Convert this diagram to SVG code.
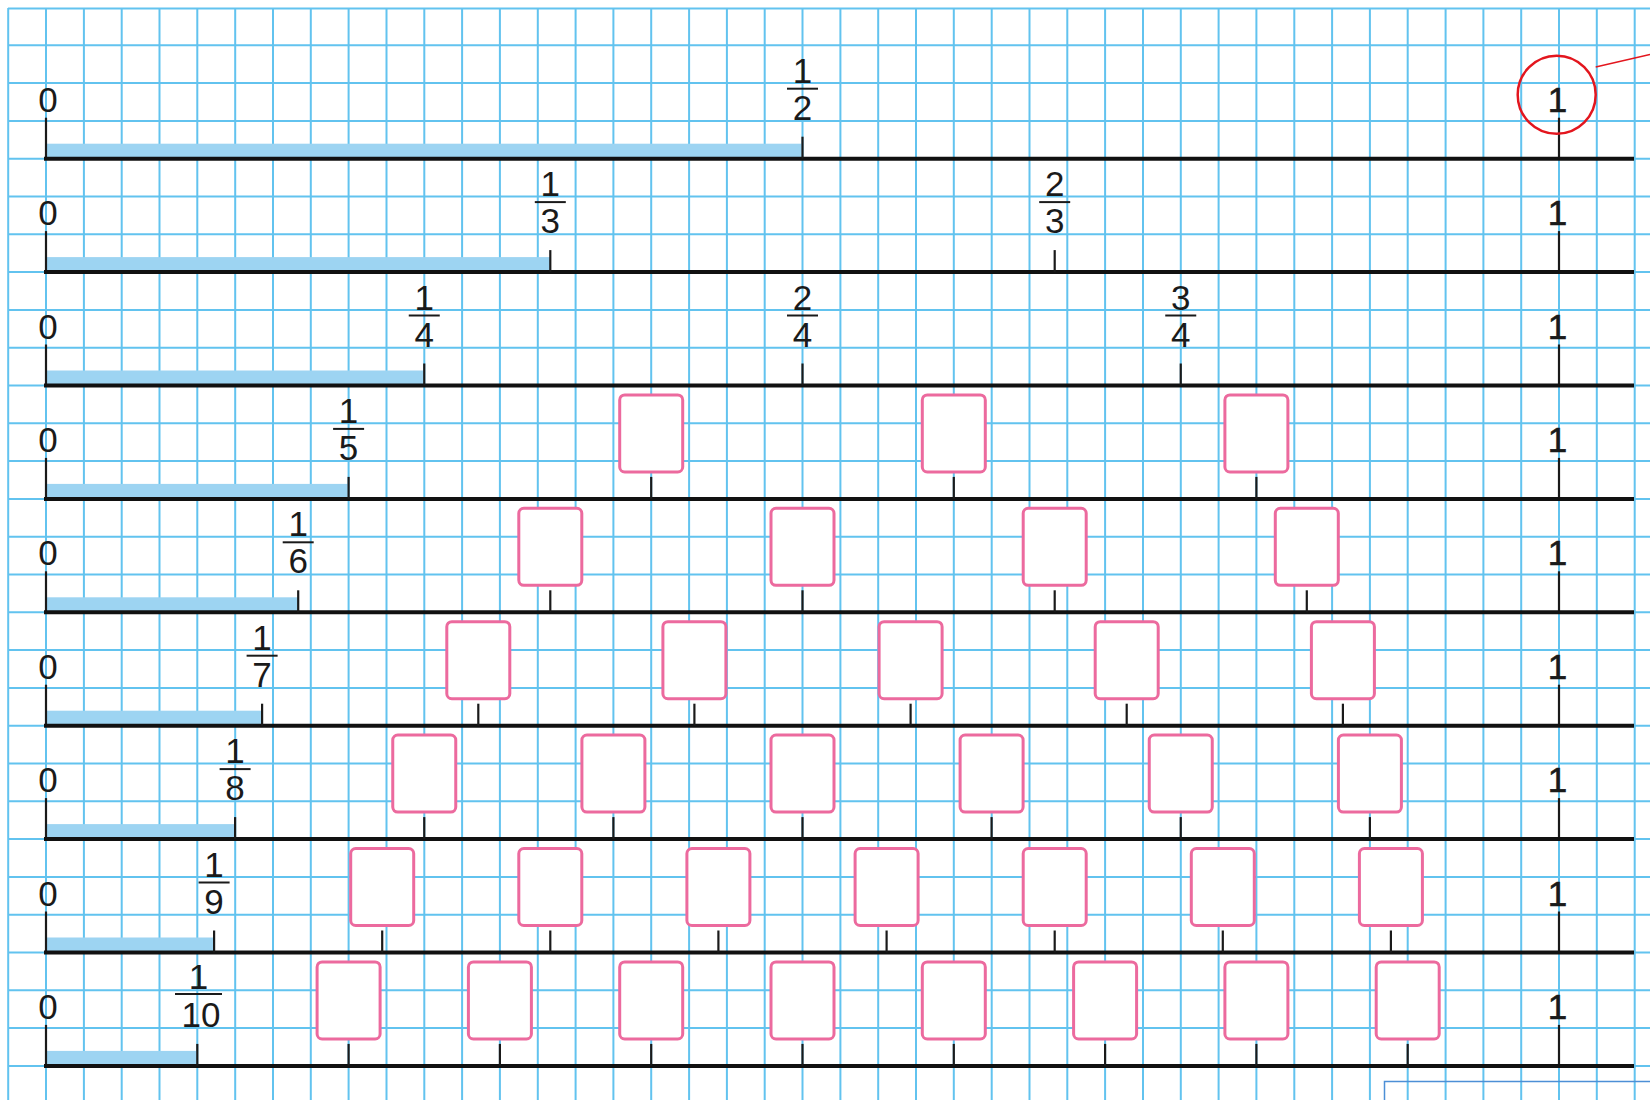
<svg xmlns="http://www.w3.org/2000/svg" xmlns:xlink="http://www.w3.org/1999/xlink" width="1650" height="1100" viewBox="0 0 1650 1100">
<style>
.grid{fill:none;stroke:#62c3ef;stroke-width:2}
.axis{stroke:#111;stroke-width:4;fill:none}
.tick{stroke:#1a1a1a;stroke-width:2.2;fill:none}
.bar{fill:#9dd4f2}
.box{fill:#fff;stroke:#ec6a9e;stroke-width:3}
.fb{stroke:#1a1a1a;stroke-width:2}
text{font-family:"Liberation Sans",Arial,sans-serif;font-size:35px;fill:#1a1a1a;text-anchor:middle}
.unit{stroke:#1a1a1a;stroke-width:0.6}
</style>
<defs>
<g id="blank"><rect class="box" x="-31.5" y="-104" width="63" height="77" rx="5"/><line class="tick" x1="0" y1="-22" x2="0" y2="0"/></g>
<g id="ends"><line class="tick" x1="46" y1="-41" x2="46" y2="0"/><line class="tick" x1="1559" y1="-41" x2="1559" y2="0"/><line class="axis" x1="44" y1="0" x2="1634" y2="0"/><text x="48" y="-47">0</text><text class="unit" x="1557.5" y="-47">1</text></g>
</defs>
<rect width="1650" height="1100" fill="#fff"/>
<path class="grid" d="M8.2 8V1100M46 8V1100M83.9 8V1100M121.7 8V1100M159.5 8V1100M197.3 8V1100M235.2 8V1100M273 8V1100M310.8 8V1100M348.6 8V1100M386.5 8V1100M424.3 8V1100M462.1 8V1100M499.9 8V1100M537.8 8V1100M575.6 8V1100M613.4 8V1100M651.2 8V1100M689.1 8V1100M726.9 8V1100M764.7 8V1100M802.5 8V1100M840.4 8V1100M878.2 8V1100M916 8V1100M953.8 8V1100M991.7 8V1100M1029.5 8V1100M1067.3 8V1100M1105.1 8V1100M1143 8V1100M1180.8 8V1100M1218.6 8V1100M1256.4 8V1100M1294.3 8V1100M1332.1 8V1100M1369.9 8V1100M1407.7 8V1100M1445.6 8V1100M1483.4 8V1100M1521.2 8V1100M1559 8V1100M1596.8 8V1100M1634.7 8V1100M8 8.5H1650M8 45.3H1650M8 83.1H1650M8 120.9H1650M8 158.7H1650M8 196.5H1650M8 234.3H1650M8 272.1H1650M8 309.9H1650M8 347.7H1650M8 385.5H1650M8 423.3H1650M8 461.1H1650M8 498.9H1650M8 536.7H1650M8 574.5H1650M8 612.3H1650M8 650.1H1650M8 687.9H1650M8 725.7H1650M8 763.5H1650M8 801.3H1650M8 839.1H1650M8 876.9H1650M8 914.7H1650M8 952.5H1650M8 990.3H1650M8 1028.1H1650M8 1065.9H1650"/>

<g id="row-halves" transform="translate(0,158.7)">
<rect class="bar" x="46" y="-15" width="756.5" height="14"/>
<use href="#ends"/>
<line class="tick" x1="802.5" y1="-22" x2="802.5" y2="0"/>
<text x="802.5" y="-76">1</text><line class="fb" x1="787" y1="-70" x2="818" y2="-70"/><text x="802.5" y="-39">2</text>
</g>

<g id="row-thirds" transform="translate(0,272.1)">
<rect class="bar" x="46" y="-15" width="504.3" height="14"/>
<use href="#ends"/>
<line class="tick" x1="550.3" y1="-22" x2="550.3" y2="0"/>
<text x="550.3" y="-76">1</text><line class="fb" x1="534.8" y1="-70" x2="565.8" y2="-70"/><text x="550.3" y="-39">3</text>
<line class="tick" x1="1054.7" y1="-22" x2="1054.7" y2="0"/>
<text x="1054.7" y="-76">2</text><line class="fb" x1="1039.2" y1="-70" x2="1070.2" y2="-70"/><text x="1054.7" y="-39">3</text>
</g>

<g id="row-quarters" transform="translate(0,385.5)">
<rect class="bar" x="46" y="-15" width="378.25" height="14"/>
<use href="#ends"/>
<line class="tick" x1="424.25" y1="-22" x2="424.25" y2="0"/>
<text x="424.25" y="-76">1</text><line class="fb" x1="408.75" y1="-70" x2="439.75" y2="-70"/><text x="424.25" y="-39">4</text>
<line class="tick" x1="802.5" y1="-22" x2="802.5" y2="0"/>
<text x="802.5" y="-76">2</text><line class="fb" x1="787" y1="-70" x2="818" y2="-70"/><text x="802.5" y="-39">4</text>
<line class="tick" x1="1180.75" y1="-22" x2="1180.75" y2="0"/>
<text x="1180.75" y="-76">3</text><line class="fb" x1="1165.25" y1="-70" x2="1196.25" y2="-70"/><text x="1180.75" y="-39">4</text>
</g>

<g id="row-fifths" transform="translate(0,498.9)">
<rect class="bar" x="46" y="-15" width="302.6" height="14"/>
<use href="#ends"/>
<line class="tick" x1="348.6" y1="-22" x2="348.6" y2="0"/>
<text x="348.6" y="-76">1</text><line class="fb" x1="333.1" y1="-70" x2="364.1" y2="-70"/><text x="348.6" y="-39">5</text>
<use id="box-5-2" href="#blank" x="651.2"/>
<use id="box-5-3" href="#blank" x="953.8"/>
<use id="box-5-4" href="#blank" x="1256.4"/>
</g>

<g id="row-sixths" transform="translate(0,612.3)">
<rect class="bar" x="46" y="-15" width="252.2" height="14"/>
<use href="#ends"/>
<line class="tick" x1="298.2" y1="-22" x2="298.2" y2="0"/>
<text x="298.2" y="-76">1</text><line class="fb" x1="282.7" y1="-70" x2="313.7" y2="-70"/><text x="298.2" y="-39">6</text>
<use id="box-6-2" href="#blank" x="550.3"/>
<use id="box-6-3" href="#blank" x="802.5"/>
<use id="box-6-4" href="#blank" x="1054.7"/>
<use id="box-6-5" href="#blank" x="1306.8"/>
</g>

<g id="row-sevenths" transform="translate(0,725.7)">
<rect class="bar" x="46" y="-15" width="216.1" height="14"/>
<use href="#ends"/>
<line class="tick" x1="262.1" y1="-22" x2="262.1" y2="0"/>
<text x="262.1" y="-76">1</text><line class="fb" x1="246.6" y1="-70" x2="277.6" y2="-70"/><text x="262.1" y="-39">7</text>
<use id="box-7-2" href="#blank" x="478.3"/>
<use id="box-7-3" href="#blank" x="694.4"/>
<use id="box-7-4" href="#blank" x="910.6"/>
<use id="box-7-5" href="#blank" x="1126.7"/>
<use id="box-7-6" href="#blank" x="1342.9"/>
</g>

<g id="row-eighths" transform="translate(0,839.1)">
<rect class="bar" x="46" y="-15" width="189.1" height="14"/>
<use href="#ends"/>
<line class="tick" x1="235.1" y1="-22" x2="235.1" y2="0"/>
<text x="235.1" y="-76">1</text><line class="fb" x1="219.6" y1="-70" x2="250.6" y2="-70"/><text x="235.1" y="-39">8</text>
<use id="box-8-2" href="#blank" x="424.25"/>
<use id="box-8-3" href="#blank" x="613.4"/>
<use id="box-8-4" href="#blank" x="802.5"/>
<use id="box-8-5" href="#blank" x="991.6"/>
<use id="box-8-6" href="#blank" x="1180.75"/>
<use id="box-8-7" href="#blank" x="1369.9"/>
</g>

<g id="row-ninths" transform="translate(0,952.5)">
<rect class="bar" x="46" y="-15" width="168.1" height="14"/>
<use href="#ends"/>
<line class="tick" x1="214.1" y1="-22" x2="214.1" y2="0"/>
<text x="214.1" y="-76">1</text><line class="fb" x1="198.6" y1="-70" x2="229.6" y2="-70"/><text x="214.1" y="-39">9</text>
<use id="box-9-2" href="#blank" x="382.2"/>
<use id="box-9-3" href="#blank" x="550.3"/>
<use id="box-9-4" href="#blank" x="718.4"/>
<use id="box-9-5" href="#blank" x="886.6"/>
<use id="box-9-6" href="#blank" x="1054.7"/>
<use id="box-9-7" href="#blank" x="1222.8"/>
<use id="box-9-8" href="#blank" x="1390.9"/>
</g>

<g id="row-tenths" transform="translate(0,1065.9)">
<rect class="bar" x="46" y="-15" width="151.3" height="14"/>
<use href="#ends"/>
<line class="tick" x1="197.3" y1="-22" x2="197.3" y2="0"/>
<text x="198.5" y="-77">1</text><line class="fb" x1="175" y1="-72" x2="222" y2="-72"/><text x="201" y="-39">10</text>
<use id="box-10-2" href="#blank" x="348.6"/>
<use id="box-10-3" href="#blank" x="499.9"/>
<use id="box-10-4" href="#blank" x="651.2"/>
<use id="box-10-5" href="#blank" x="802.5"/>
<use id="box-10-6" href="#blank" x="953.8"/>
<use id="box-10-7" href="#blank" x="1105.1"/>
<use id="box-10-8" href="#blank" x="1256.4"/>
<use id="box-10-9" href="#blank" x="1407.7"/>
</g>

<g id="connectors">
<circle cx="1556.7" cy="94.8" r="39" fill="none" stroke="#e3161e" stroke-width="2.5"/>
<line x1="1595.7" y1="67" x2="1650" y2="54.5" stroke="#e3161e" stroke-width="1.5"/>
</g>
<path d="M1384.5 1100V1081.5H1650" fill="none" stroke="#4d8fd6" stroke-width="1.5"/>
</svg>
